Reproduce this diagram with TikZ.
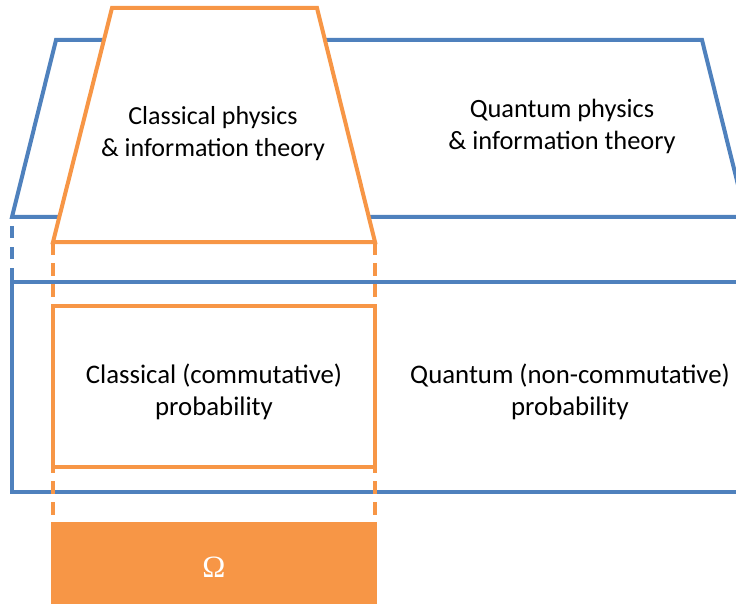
\documentclass[tikz,border=0pt]{standalone}
\usepackage{fontspec}
\setmainfont{Carlito}
\newfontfamily\omegafont{Liberation Serif}

\begin{document}
\begin{tikzpicture}[x=1pt, y=-1pt,
    qline/.style={draw=qblue, line width=4pt},
    cline/.style={draw=corange, line width=4pt},
    qdash/.style={qline, dash pattern=on 12pt off 9pt, dash phase=12pt},
    cdash/.style={cline, dash pattern=on 13pt off 8pt},
    lbl/.style={align=center, font=\fontsize{26}{32}\selectfont, inner sep=0pt},
    plbl/.style={lbl, font=\fontsize{26.8}{32}\selectfont}]
  \definecolor{qblue}{HTML}{4F81BD}
  \definecolor{corange}{HTML}{F79646}
  \useasboundingbox (0,0) rectangle (736,604);
  \clip (0,0) rectangle (736,604);
  % quantum level
  \draw[qline, line join=miter] (56,40) -- (702,40) -- (746,217) -- (12,217) -- cycle;
  \draw[qdash] (12,217) -- (12,282);
  \draw[qline] (12,282) rectangle (760,492);
  % classical level
  \draw[cline, fill=white, line join=miter] (112,8) -- (317,8) -- (375,242) -- (53,242) -- cycle;
  \draw[cdash] (53,242) -- (53,306);
  \draw[cdash] (375,242) -- (375,306);
  \draw[cline] (53,306) rectangle (375,467);
  \draw[cdash, dash phase=7pt] (53,467) -- (53,522);
  \draw[cdash, dash phase=7pt] (375,467) -- (375,522);
  \fill[corange] (51,522) rectangle (377,604);
  % labels
  \node[lbl] (cphys) at (213,134) {Classical physics\\\& information theory};
  \node[lbl, font=\fontsize{26.4}{32}\selectfont] (qphys) at (562,126) {Quantum physics\\\& information theory};
  \node[plbl] (cprob) at (214,392) {Classical (commutative)\\probability};
  \node[plbl] (qprob) at (570,392) {Quantum (non-commutative)\\probability};
  \node[inner sep=0pt, text=white, font=\omegafont\fontsize{31}{36}\selectfont] (omega) at (214,567) {Ω};
\end{tikzpicture}
\end{document}
